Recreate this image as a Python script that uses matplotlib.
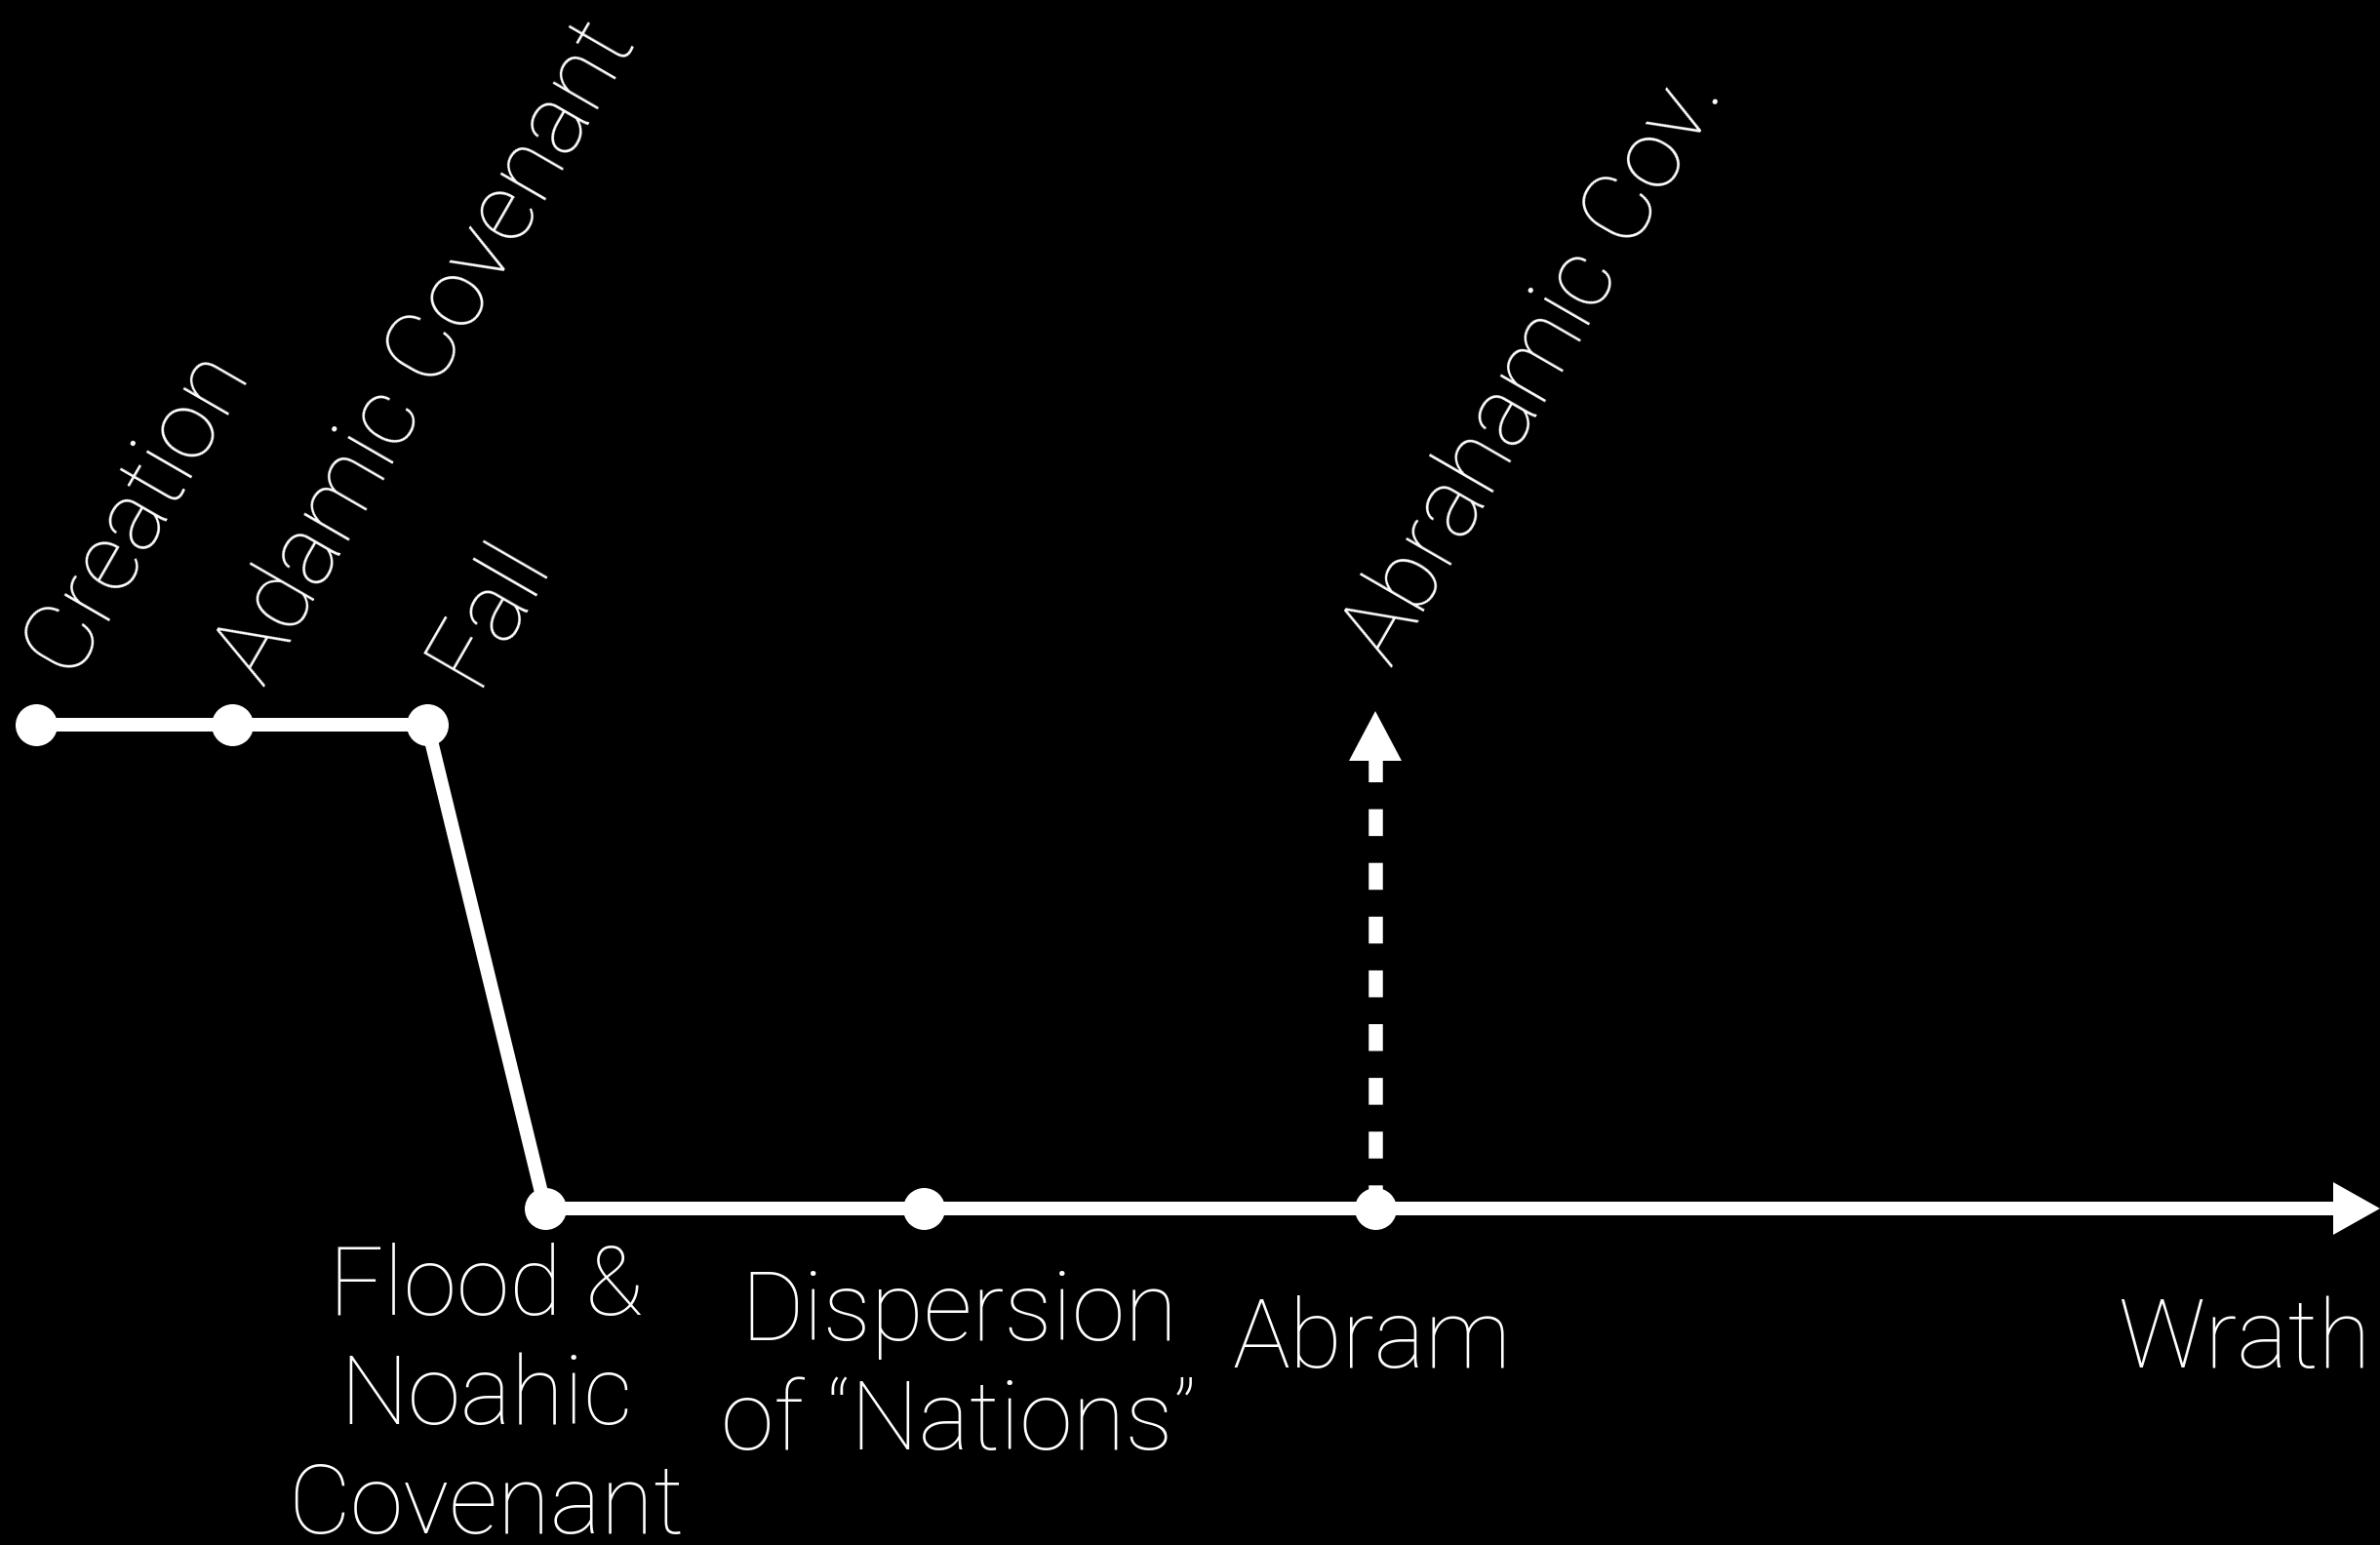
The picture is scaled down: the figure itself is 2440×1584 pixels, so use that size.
import matplotlib
matplotlib.use("Agg")
import matplotlib.pyplot as plt

plt.rcParams['font.family'] = ['Roboto', 'DejaVu Sans']

# ---- data ----
event_names = ["Creation", "Adamic Covenant", "Fall",
               "Flood & Noahic Covenant", "Dispersion of \u201cNations\u201d", "Abram"]
event_x = [37, 238, 438, 559, 947, 1410]          # position along the timeline (px)
event_y = [743, 743, 743, 1239, 1239, 1239]       # level (px, top-down)

end_x = 2440                                      # arrow tip of the timeline
covenant_tip_y = 729                              # tip of the Abrahamic arrow

rot_labels = ["Creation", "Adamic Covenant", "Fall", "Abrahamic Cov."]
rot_anchor_x = [72, 270, 486, 1426]
rot_anchor_y = [694, 706, 706, 685]

bottom_lines = [["Flood &", "Noahic", "Covenant"],
                ["Dispersion", "of \u201cNations\u201d"],
                ["Abram"],
                ["Wrath"]]
bottom_x = [498, 983, 1406, 2301]
bottom_y0 = [1348, 1374, 1402, 1402]
line_step = 112

# ---- figure ----
W, H = 2440, 1584
fig = plt.figure(figsize=(W / 100, H / 100), dpi=100, facecolor="black")
ax = fig.add_axes([0, 0, 1, 1])
ax.set_facecolor("black")
ax.set_xlim(0, W)
ax.set_ylim(H, 0)
ax.axis("off")

lw_pt = 14 * 0.72
ax.plot(event_x, event_y, color="white", lw=lw_pt, solid_capstyle="butt",
        solid_joinstyle="round", zorder=2)

# main arrow to the right
ax.arrow(event_x[-1], event_y[-1], end_x - event_x[-1], 0, width=14,
         head_width=54, head_length=48, length_includes_head=True,
         color="white", lw=0, zorder=2)

# dashed arrow up from Abram
head_len = 51
ax.plot([event_x[-1], event_x[-1]], [covenant_tip_y + head_len - 6, event_y[-1]],
        color="white", lw=14.5 * 0.72, dashes=(1.9, 1.9), dash_capstyle="butt",
        zorder=2)
ax.arrow(event_x[-1], covenant_tip_y + head_len, 0, -head_len, width=0.1,
         head_width=54, head_length=head_len, length_includes_head=True,
         color="white", lw=0, zorder=2)

# dots
ax.plot(event_x, event_y, "o", color="white", ms=43 * 0.72, mec="none", zorder=3)

for lab, x, y in zip(rot_labels, rot_anchor_x, rot_anchor_y):
    ax.text(x, y, lab, color="white", fontsize=72, fontweight="light",
            rotation=60, rotation_mode="anchor", ha="left", va="baseline")

for lines, x, y0 in zip(bottom_lines, bottom_x, bottom_y0):
    for i, ln in enumerate(lines):
        ax.text(x, y0 + i * line_step, ln, color="white", fontsize=71,
                fontweight="light", ha="center", va="baseline")

fig.savefig("out.png", dpi=100, facecolor="black")
